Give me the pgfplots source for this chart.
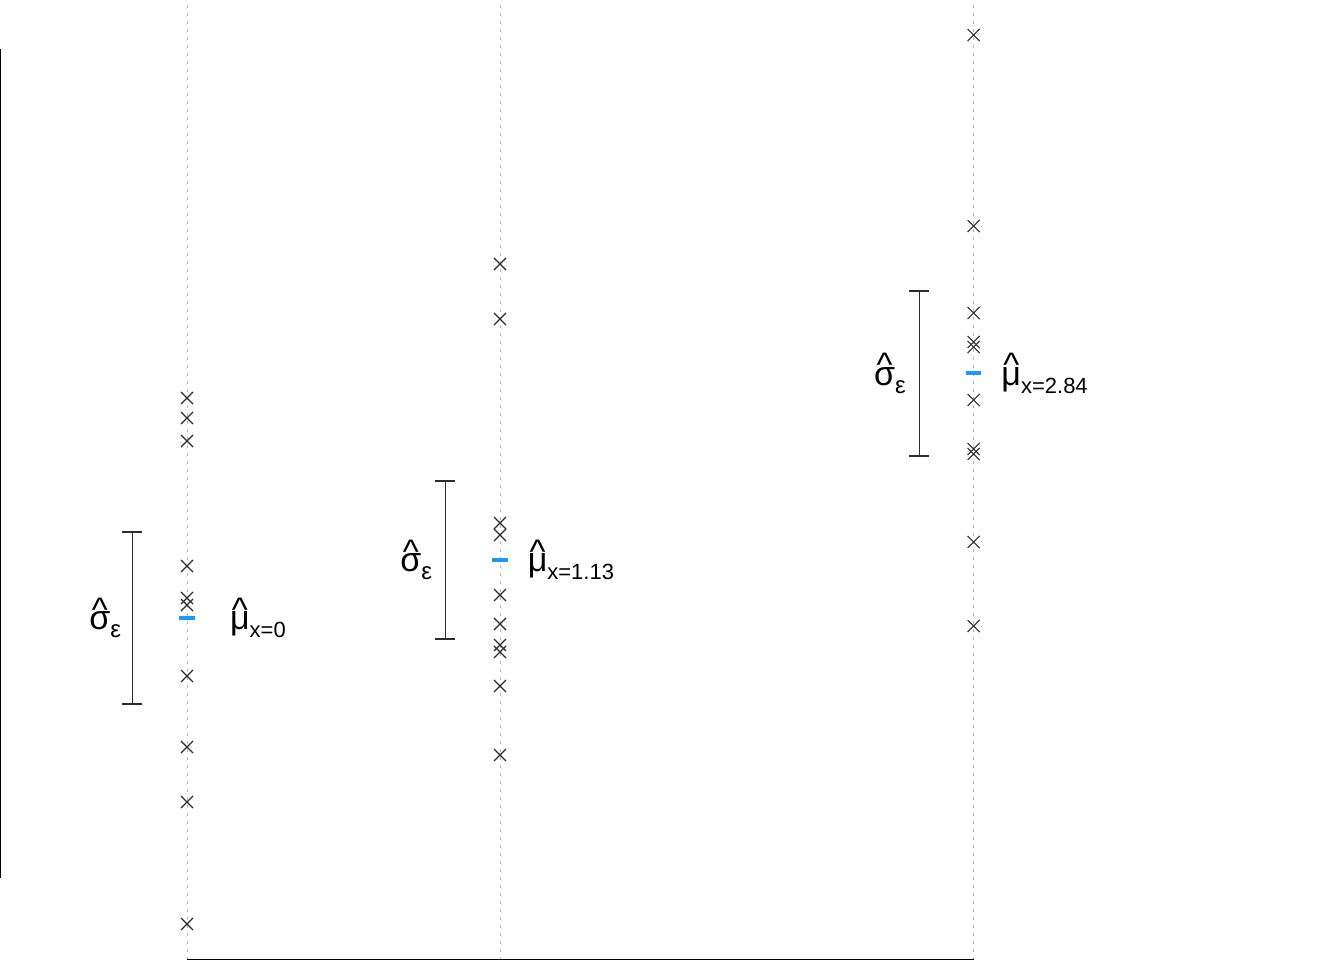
\documentclass[border=0pt]{standalone}
\usepackage{pgfplots}
\pgfplotsset{compat=1.18}
\usepackage{fontspec}
\setmainfont{Liberation Sans}
\definecolor{meanblue}{RGB}{33,150,243}
\definecolor{crossgray}{RGB}{45,45,45}
\newcommand{\hatit}[1]{{\ooalign{#1\cr\hidewidth\raisebox{0.25em}{\textasciicircum}\hidewidth\cr}}}
\newcommand{\siglab}{{\fontsize{17pt}{19pt}\selectfont\hatit{σ}\raisebox{-4pt}{\fontsize{12pt}{13pt}\selectfont ε}}}
\newcommand{\mulab}[1]{{\fontsize{17pt}{19pt}\selectfont\hatit{μ}\raisebox{-4pt}{\fontsize{11pt}{13pt}\selectfont x=#1}}}
\begin{document}
\begin{tikzpicture}
\begin{axis}[
  scale only axis,
  width=672pt, height=480pt,
  xmin=-0.6751, xmax=4.1769,
  ymin=0, ymax=9.6,
  hide axis,
  clip=true,
]
% guide lines
\addplot[gray!55, line width=0.5pt, dash pattern=on 1.5pt off 2.5pt] coordinates {(0,0) (0,9.6)};
\addplot[gray!55, line width=0.5pt, dash pattern=on 1.5pt off 2.5pt] coordinates {(1.13,0) (1.13,9.6)};
\addplot[gray!55, line width=0.5pt, dash pattern=on 1.5pt off 2.5pt] coordinates {(2.84,0) (2.84,9.6)};
% axis lines
\addplot[black, line width=0.75pt] coordinates {(-0.6724,0.82) (-0.6724,9.11)};
\addplot[black, line width=0.75pt] coordinates {(0,0.0075) (2.84,0.0075)};
% observations
\addplot[only marks, mark=x, mark size=4.3pt, crossgray, mark options={line width=0.55pt}] coordinates {
 (0,5.62) (0,5.42) (0,5.19) (0,3.94) (0,3.62) (0,3.55) (0,2.84) (0,2.13) (0,1.58) (0,0.36)
 (1.13,6.96) (1.13,6.41) (1.13,4.37) (1.13,4.25) (1.13,3.65) (1.13,3.36) (1.13,3.15) (1.13,3.08) (1.13,2.74) (1.13,2.05)
 (2.84,9.25) (2.84,7.34) (2.84,6.47) (2.84,6.18) (2.84,6.13) (2.84,5.60) (2.84,5.11) (2.84,5.06) (2.84,4.18) (2.84,3.34)
};
% sigma bars
\addplot[draw=none, mark=none, crossgray,
  error bars/.cd, y dir=both, y explicit,
  error bar style={line width=0.6pt, crossgray},
  error mark options={line width=0.6pt, mark size=5pt, rotate=90, crossgray}]
  coordinates {
  (-0.197,3.42) +- (0,0.86)
  (0.933,4.00) +- (0,0.79)
  (2.643,5.865) +- (0,0.825)
};
% means
\addplot[only marks, mark=-, mark size=3.8pt, meanblue, mark options={line width=2pt}] coordinates {
 (0,3.42) (1.13,4.00) (2.84,5.866)
};
\node[anchor=east, inner sep=0pt] at (axis cs:-0.237,3.35) {\siglab};
\node[anchor=east, inner sep=0pt] at (axis cs:0.886,3.93) {\siglab};
\node[anchor=east, inner sep=0pt] at (axis cs:2.596,5.795) {\siglab};
\node[anchor=center, inner sep=0pt] at (axis cs:0.256,3.35) {\mulab{0}};
\node[anchor=center, inner sep=0pt] at (axis cs:1.386,3.93) {\mulab{1.13}};
\node[anchor=center, inner sep=0pt] at (axis cs:3.096,5.795) {\mulab{2.84}};
\end{axis}
\pgfresetboundingbox
\useasboundingbox (current axis.south west) rectangle (current axis.north east);
\end{tikzpicture}
\end{document}
